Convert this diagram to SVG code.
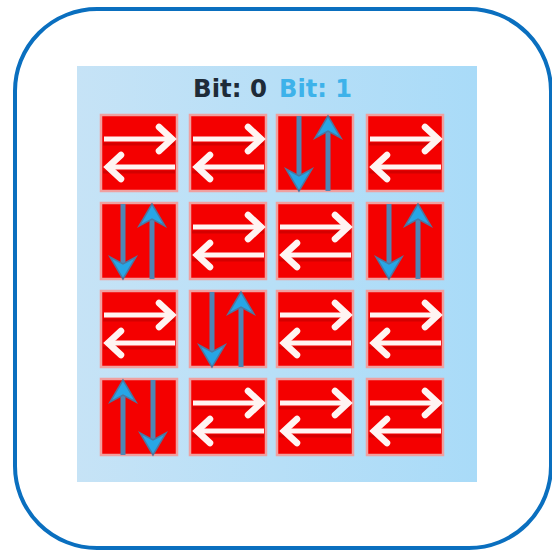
<svg xmlns="http://www.w3.org/2000/svg" xmlns:xlink="http://www.w3.org/1999/xlink" width="552" height="552" viewBox="0 0 552 552">
<defs>
<linearGradient id="panel" x1="0" y1="0" x2="1" y2="0">
<stop offset="0" stop-color="#c6e3f6"/>
<stop offset="1" stop-color="#a9dbf8"/>
</linearGradient>
<style>
.tile{fill:#f40000;stroke:#f0a0a0;stroke-width:2.5}
.shadow{stroke:#b30000;stroke-width:3;fill:none;opacity:0.5}
.wa{stroke:#fff4f2;stroke-width:5;fill:none}
.wh{stroke:#fff4f2;stroke-width:6.5;fill:none;stroke-linejoin:miter;stroke-linecap:round}
.shaft{stroke:#4f86b4;stroke-width:5;fill:none}
.head{fill:#27a6e6;stroke:#4a78a2;stroke-width:1.5;stroke-linejoin:miter}
.lbl{font-family:"DejaVu Sans",sans-serif;font-size:24px;font-weight:bold}
</style>
<g id="h">
<rect class="tile" x="0" y="0" width="76" height="76"/>
<line class="shadow" x1="2" y1="29" x2="74" y2="29"/>
<line class="shadow" x1="2" y1="57" x2="74" y2="57"/>
<line class="wa" x1="3" y1="24" x2="70" y2="24"/>
<polyline class="wh" points="58,12 71,24 58,36"/>
<line class="wa" x1="7" y1="52" x2="74" y2="52"/>
<polyline class="wh" points="20,40 7,52 20,64"/>
</g>
<g id="down">
<line class="shaft" x1="0" y1="1" x2="0" y2="62"/>
<polygon class="head" points="0,76 -13,54 0,61 13,54"/>
</g>
<g id="up">
<line class="shaft" x1="0" y1="15" x2="0" y2="76"/>
<polygon class="head" points="0,1 -13,23 0,16 13,23"/>
</g>
<g id="vdu">
<rect class="tile" x="0" y="0" width="76" height="76"/>
<use xlink:href="#down" x="22" y="0"/>
<use xlink:href="#up" x="51" y="0"/>
</g>
<g id="vud">
<rect class="tile" x="0" y="0" width="76" height="76"/>
<use xlink:href="#up" x="22" y="0"/>
<use xlink:href="#down" x="52" y="0"/>
</g>
</defs>
<rect x="0" y="0" width="552" height="552" fill="#ffffff"/>
<rect id="frame" x="15" y="9" width="536" height="539" rx="82" ry="82" fill="#ffffff" stroke="#0a6fbf" stroke-width="4"/>
<rect id="panel-bg" x="77" y="66" width="400" height="416" fill="url(#panel)"/>
<g id="legend">
<text class="lbl" x="193" y="97" fill="#1e2b38" textLength="74" lengthAdjust="spacingAndGlyphs">Bit: 0</text>
<text class="lbl" x="279" y="97" fill="#3db2ea" textLength="73" lengthAdjust="spacingAndGlyphs">Bit: 1</text>
</g>
<g id="connectors"/>
<g id="r1c1" transform="translate(101,115)"><use xlink:href="#h"/></g>
<g id="r1c2" transform="translate(190,115)"><use xlink:href="#h"/></g>
<g id="r1c3" transform="translate(277,115)"><use xlink:href="#vdu"/></g>
<g id="r1c4" transform="translate(367,115)"><use xlink:href="#h"/></g>
<g id="r2c1" transform="translate(101,203)"><use xlink:href="#vdu"/></g>
<g id="r2c2" transform="translate(190,203)"><use xlink:href="#h"/></g>
<g id="r2c3" transform="translate(277,203)"><use xlink:href="#h"/></g>
<g id="r2c4" transform="translate(367,203)"><use xlink:href="#vdu"/></g>
<g id="r3c1" transform="translate(101,291)"><use xlink:href="#h"/></g>
<g id="r3c2" transform="translate(190,291)"><use xlink:href="#vdu"/></g>
<g id="r3c3" transform="translate(277,291)"><use xlink:href="#h"/></g>
<g id="r3c4" transform="translate(367,291)"><use xlink:href="#h"/></g>
<g id="r4c1" transform="translate(101,379)"><use xlink:href="#vud"/></g>
<g id="r4c2" transform="translate(190,379)"><use xlink:href="#h"/></g>
<g id="r4c3" transform="translate(277,379)"><use xlink:href="#h"/></g>
<g id="r4c4" transform="translate(367,379)"><use xlink:href="#h"/></g>
</svg>
